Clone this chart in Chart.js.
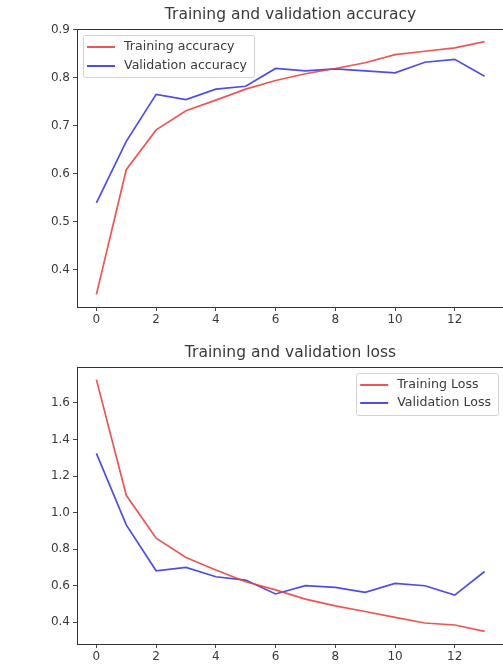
<!DOCTYPE html>
<html>
<head>
<meta charset="utf-8">
<script src="https://cdn.jsdelivr.net/npm/chart.js@4.4.1/dist/chart.umd.min.js"></script>
<style>
  html, body { margin: 0; padding: 0; background: #fff; overflow: hidden; width: 503px; height: 669px; }
  canvas { position: absolute; left: 0; }
  #acc { top: 0; }
  #loss { top: 330px; }
</style>
</head>
<body>
<canvas id="acc" width="506" height="330"></canvas>
<canvas id="loss" width="506" height="339"></canvas>
<script>
// ---- data ----
const epochs = [0, 1, 2, 3, 4, 5, 6, 7, 8, 9, 10, 11, 12, 13];
const trainAcc = [0.348, 0.608, 0.691, 0.731, 0.753, 0.776, 0.794, 0.808, 0.819, 0.831, 0.848, 0.855, 0.862, 0.875];
const valAcc   = [0.539, 0.667, 0.765, 0.754, 0.776, 0.782, 0.819, 0.814, 0.818, 0.814, 0.810, 0.832, 0.838, 0.803];
const trainLoss = [1.728, 1.095, 0.860, 0.754, 0.686, 0.622, 0.577, 0.527, 0.490, 0.459, 0.427, 0.396, 0.385, 0.350];
const valLoss   = [1.324, 0.933, 0.682, 0.700, 0.649, 0.631, 0.555, 0.600, 0.591, 0.564, 0.613, 0.600, 0.549, 0.678];
const epochTicks = [0, 2, 4, 6, 8, 10, 12];
const accTicks = [0.4, 0.5, 0.6, 0.7, 0.8, 0.9];
const lossTicks = [0.4, 0.6, 0.8, 1.0, 1.2, 1.4, 1.6];
const accTitle = 'Training and validation accuracy';
const lossTitle = 'Training and validation loss';
const accLabels = ['Training accuracy', 'Validation accuracy'];
const lossLabels = ['Training Loss', 'Validation Loss'];

// ---- styling ----
const FONT = 'DejaVu Sans';
const TXT = '#3a3a3a';
const RED = 'rgba(236,62,62,0.88)';
const BLUE = 'rgba(52,52,232,0.88)';

function pts(arr) { return epochs.map((e, i) => ({ x: e, y: arr[i] })); }
function margins(arrs) {
  const all = [].concat(...arrs);
  const mn = Math.min(...all), mx = Math.max(...all);
  const m = (mx - mn) * 0.05;
  return [mn - m, mx + m];
}

const framePlugin = {
  id: 'frame',
  afterDraw(chart, args, opts) {
    const { ctx, chartArea: a } = chart;
    ctx.save();
    ctx.strokeStyle = '#333';
    ctx.lineWidth = 1;
    ctx.strokeRect(Math.round(a.left) + 0.5, Math.round(a.top) + 0.5, Math.round(a.right - a.left), Math.round(a.bottom - a.top));
    // title
    ctx.fillStyle = TXT;
    ctx.font = '15.5px "' + FONT + '"';
    ctx.textAlign = 'center';
    ctx.textBaseline = 'middle';
    ctx.fillText(opts.title, (a.left + a.right) / 2, a.top + opts.titleDy);
    // legend
    ctx.font = '12.6px "' + FONT + '"';
    const ds = chart.data.datasets;
    let tw = 0;
    ds.forEach(d => { tw = Math.max(tw, ctx.measureText(d.label).width); });
    const padL = 4, lineLen = 28, gap = 9, padR = 7, rowH = opts.rowH;
    const w = padL + lineLen + gap + tw + padR;
    const h = 42;
    const x0 = opts.side === 'left' ? a.left + 6 : a.right - 6 - w;
    const y0 = a.top + 6;
    ctx.fillStyle = 'rgba(255,255,255,0.85)';
    ctx.strokeStyle = 'rgba(205,205,205,0.9)';
    ctx.lineWidth = 1;
    ctx.beginPath();
    ctx.roundRect(Math.round(x0) + 0.5, Math.round(y0) + 0.5, Math.round(w), h, 2);
    ctx.fill();
    ctx.stroke();
    ds.forEach((d, i) => {
      const y = y0 + 12 + i * rowH;
      ctx.strokeStyle = d.borderColor;
      ctx.lineWidth = 2;
      ctx.beginPath();
      ctx.moveTo(x0 + padL, y);
      ctx.lineTo(x0 + padL + lineLen, y);
      ctx.stroke();
      ctx.fillStyle = TXT;
      ctx.textAlign = 'left';
      ctx.textBaseline = 'middle';
      ctx.fillText(d.label, x0 + padL + lineLen + gap, y);
    });
    ctx.restore();
  }
};

function makeChart(id, labels, series, yTicks, title, opts) {
  const [ymin, ymax] = margins(series);
  return new Chart(document.getElementById(id), {
    type: 'line',
    data: {
      datasets: [
        { label: labels[0], data: pts(series[0]), borderColor: RED, borderWidth: 1.7, pointRadius: 0, tension: 0, fill: false },
        { label: labels[1], data: pts(series[1]), borderColor: BLUE, borderWidth: 1.7, pointRadius: 0, tension: 0, fill: false }
      ]
    },
    options: {
      responsive: false,
      animation: false,
      devicePixelRatio: 1,
      layout: { padding: { top: opts.padTop, right: 2, left: 0, bottom: 0 } },
      plugins: {
        legend: { display: false },
        title: { display: false },
        tooltip: { enabled: false },
        frame: { title: title, titleDy: opts.titleDy, side: opts.side, rowH: opts.rowH }
      },
      scales: {
        x: {
          type: 'linear',
          min: -0.65, max: 13.65,
          afterBuildTicks: ax => { ax.ticks = epochTicks.map(v => ({ value: v })); },
          afterFit: ax => { ax.height = opts.xH; },
          grid: { drawOnChartArea: false, tickLength: 4, color: '#444', tickWidth: 1 },
          border: { display: false },
          ticks: { font: { family: FONT, size: 12 }, color: TXT, padding: 2, maxRotation: 0, autoSkip: false, callback: v => String(v) }
        },
        y: {
          type: 'linear',
          min: ymin, max: ymax,
          afterBuildTicks: ax => { ax.ticks = yTicks.map(v => ({ value: v })); },
          afterFit: ax => { ax.width = 77; },
          grid: { drawOnChartArea: false, tickLength: 4, color: '#444', tickWidth: 1 },
          border: { display: false },
          ticks: { font: { family: FONT, size: 12 }, color: TXT, padding: 3, autoSkip: false, callback: v => Number(v).toFixed(1) }
        }
      }
    },
    plugins: [framePlugin]
  });
}

makeChart('acc', accLabels, [trainAcc, valAcc], accTicks, accTitle, { padTop: 29, xH: 23, titleDy: -14, side: 'left', rowH: 19 });
makeChart('loss', lossLabels, [trainLoss, valLoss], lossTicks, lossTitle, { padTop: 37, xH: 25, titleDy: -14, side: 'right', rowH: 18 });
</script>
</body>
</html>
